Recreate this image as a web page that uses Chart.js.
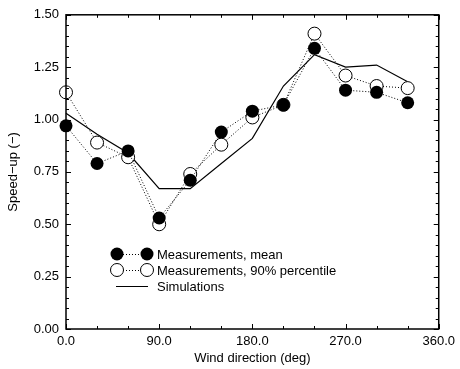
<!DOCTYPE html>
<html>
<head>
<meta charset="utf-8">
<script src="https://cdn.jsdelivr.net/npm/chart.js@4"></script>
<style>
 html,body{margin:0;padding:0;background:#fff;}
 #wrap{width:460px;height:369px;}
</style>
</head>
<body>
<div id="wrap"><canvas id="speedChart" width="460" height="369"></canvas></div>
<script>
// wind directions (deg)
const directions = [0, 30, 60, 90, 120, 150, 180, 210, 240, 270, 300, 330];
// measured speed-up, mean
const meanValues = [0.97, 0.79, 0.85, 0.53, 0.71, 0.94, 1.04, 1.07, 1.34, 1.14, 1.13, 1.08];
// measured speed-up, 90% percentile
const p90Values = [1.13, 0.89, 0.82, 0.50, 0.74, 0.88, 1.01, 1.07, 1.41, 1.21, 1.16, 1.15];
// simulated speed-up
const simValues = [1.03, 0.93, 0.84, 0.67, 0.67, 0.79, 0.91, 1.16, 1.31, 1.25, 1.26, 1.18];

const legendLabels = ['Measurements, mean', 'Measurements, 90% percentile', 'Simulations'];
const xTicks = [0, 90, 180, 270, 360];
const yTicks = [0, 0.25, 0.5, 0.75, 1.0, 1.25, 1.5];

const FONT = '"Liberation Sans", Arial, Helvetica, sans-serif';

function toPoints(vals){
 return directions.map((d, i) => ({x: d, y: vals[i]}));
}

// frame + inward tick marks on all four sides
const frameTicks = {
 id: 'frameTicks',
 afterDatasetsDraw(chart){
  const {ctx, chartArea: a, scales: {x, y}} = chart;
  ctx.save();
  ctx.strokeStyle = '#000';
  ctx.lineWidth = 1;
  for(let v = 0; v <= 360; v += 30){
   const px = Math.round(x.getPixelForValue(v)) + 0.5;
   const len = v % 90 === 0 ? 5 : 3;
   ctx.beginPath();
   ctx.moveTo(px, a.bottom); ctx.lineTo(px, a.bottom - len);
   ctx.moveTo(px, a.top); ctx.lineTo(px, a.top + len);
   ctx.stroke();
  }
  for(let k = 0; k <= 30; k++){
   const py = Math.round(y.getPixelForValue(k * 0.05)) + 0.5;
   const len = k % 5 === 0 ? 5 : 3;
   ctx.beginPath();
   ctx.moveTo(a.left, py); ctx.lineTo(a.left + len, py);
   ctx.moveTo(a.right, py); ctx.lineTo(a.right - len, py);
   ctx.stroke();
  }
  ctx.lineWidth = 1.5;
  ctx.strokeRect(a.left, a.top, a.right - a.left, a.bottom - a.top);
  ctx.restore();
 }
};

// legend drawn inside the plot, like the original
const insideLegend = {
 id: 'insideLegend',
 afterDraw(chart){
  const ctx = chart.ctx;
  const x1 = 117, x2 = 147, tx = 157;
  const rows = [254, 270, 286];
  ctx.save();
  ctx.font = '13px ' + FONT;
  ctx.textBaseline = 'middle';
  ctx.fillStyle = '#000';
  ctx.strokeStyle = '#000';
  ctx.lineWidth = 1;

  // mean
  ctx.setLineDash([1, 2]);
  ctx.beginPath(); ctx.moveTo(x1, rows[0] + 0.5); ctx.lineTo(x2, rows[0] + 0.5); ctx.stroke();
  ctx.setLineDash([]);
  [x1, x2].forEach(cx => { ctx.beginPath(); ctx.arc(cx, rows[0], 6.5, 0, Math.PI * 2); ctx.fill(); });
  ctx.fillText(legendLabels[0], tx, rows[0] + 1);

  // 90% percentile
  ctx.setLineDash([1, 2]);
  ctx.beginPath(); ctx.moveTo(x1, rows[1] + 0.5); ctx.lineTo(x2, rows[1] + 0.5); ctx.stroke();
  ctx.setLineDash([]);
  [x1, x2].forEach(cx => {
   ctx.beginPath(); ctx.arc(cx, rows[1], 6.5, 0, Math.PI * 2);
   ctx.fillStyle = '#fff'; ctx.fill(); ctx.stroke();
  });
  ctx.fillStyle = '#000';
  ctx.fillText(legendLabels[1], tx, rows[1] + 1);

  // simulations
  ctx.beginPath(); ctx.moveTo(116, rows[2] + 0.5); ctx.lineTo(148, rows[2] + 0.5); ctx.stroke();
  ctx.fillText(legendLabels[2], tx, rows[2] + 1);
  ctx.restore();
 }
};

const ctx = document.getElementById('speedChart').getContext('2d');
new Chart(ctx, {
 type: 'line',
 data: {
  datasets: [
   {
    label: legendLabels[0],
    data: toPoints(meanValues),
    borderColor: '#000',
    borderWidth: 1,
    borderDash: [1, 2],
    pointRadius: 6.5,
    pointBackgroundColor: '#000',
    pointBorderColor: '#000',
    pointBorderWidth: 0,
    tension: 0,
    clip: false,
    order: 1
   },
   {
    label: legendLabels[1],
    data: toPoints(p90Values),
    borderColor: '#000',
    borderWidth: 1,
    borderDash: [1, 2],
    pointRadius: 6.5,
    pointBackgroundColor: '#fff',
    pointBorderColor: '#000',
    pointBorderWidth: 1,
    tension: 0,
    clip: false,
    order: 2
   },
   {
    label: legendLabels[2],
    data: toPoints(simValues),
    borderColor: '#000',
    borderWidth: 1.2,
    pointRadius: 0,
    tension: 0,
    clip: false,
    order: 3
   }
  ]
 },
 options: {
  responsive: false,
  animation: false,
  events: [],
  layout: {padding: {top: 13, right: 18, left: 0, bottom: 0}},
  plugins: {legend: {display: false}, tooltip: {enabled: false}},
  scales: {
   x: {
    type: 'linear',
    min: 0, max: 360,
    afterBuildTicks: s => { s.ticks = xTicks.map(v => ({value: v})); },
    afterFit: s => { s.height = 40; },
    ticks: {
     color: '#000', padding: 5, maxRotation: 0,
     font: {family: FONT, size: 13},
     callback: v => v.toFixed(1)
    },
    grid: {display: false, drawTicks: false},
    border: {display: false},
    title: {
     display: true, text: 'Wind direction (deg)', color: '#000',
     font: {family: FONT, size: 13}, padding: {top: 0, bottom: 3}
    }
   },
   y: {
    min: 0, max: 1.5,
    afterBuildTicks: s => { s.ticks = yTicks.map(v => ({value: v})); },
    afterFit: s => { s.width = 66; },
    ticks: {
     color: '#000', padding: 7,
     font: {family: FONT, size: 13},
     callback: v => v.toFixed(2)
    },
    grid: {display: false, drawTicks: false},
    border: {display: false},
    title: {
     display: true, text: 'Speed\u2212up (\u2212)', color: '#000',
     font: {family: FONT, size: 13}, padding: {top: 6, bottom: 0}
    }
   }
  }
 },
 plugins: [frameTicks, insideLegend]
});
</script>
</body>
</html>
